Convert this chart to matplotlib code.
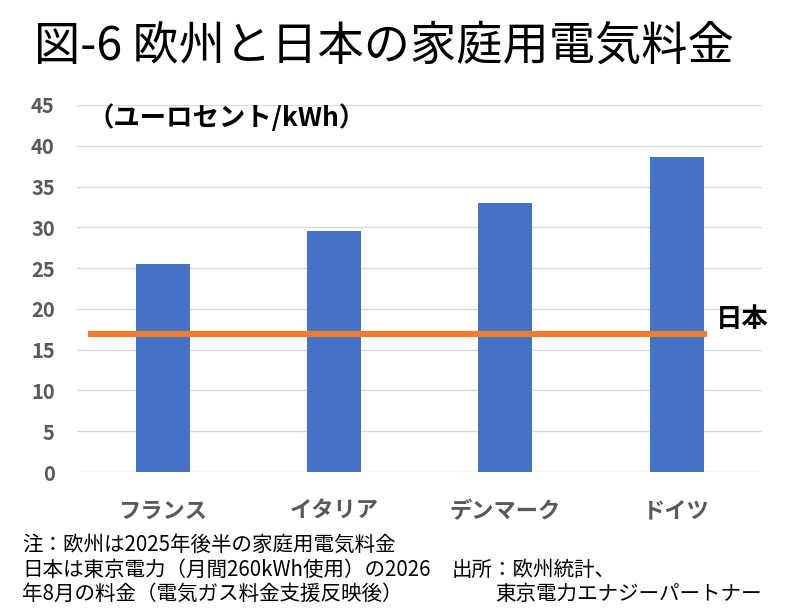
import matplotlib
import matplotlib.pyplot as plt

matplotlib.use("Agg")
plt.rcParams["font.family"] = ["Noto Sans CJK JP", "DejaVu Sans"]

countries = ["フランス", "イタリア", "デンマーク", "ドイツ"]
prices = [25.5, 29.6, 33.0, 38.6]
japan_price = 16.9
yticks = [0, 5, 10, 15, 20, 25, 30, 35, 40, 45]

fig = plt.figure(figsize=(8.09, 6.15), dpi=100)
ax = fig.add_axes([0.0952, 0.2325, 0.847, 0.5968])

x = range(len(countries))
ax.bar(x, prices, width=0.315, color="#4472C4", zorder=3)
ax.plot([-0.433, 3.175], [japan_price, japan_price], color="#ED7D31", lw=4.5, zorder=4, solid_capstyle="butt")
ax.text(3.23, japan_price + 1.8, "日本", fontsize=19, fontweight="bold", va="center", ha="left")

ax.set_xlim(-0.5, 3.5)
ax.set_ylim(0, 45)
ax.set_yticks(yticks)
ax.set_xticks(list(x))
ax.set_xticklabels(countries, fontsize=16, fontweight="bold", color="#595959")
for lab in ax.get_yticklabels():
    lab.set_fontsize(14.5)
    lab.set_fontweight("bold")
    lab.set_color("#595959")
ax.tick_params(axis="x", length=0, pad=20)
ax.tick_params(axis="y", length=0, pad=16)
ax.grid(axis="y", color="#D9D9D9", lw=1, zorder=0)
for s in ax.spines.values():
    s.set_visible(False)

ax.text(0.015, 43.4, "（ユーロセント/kWh）", fontsize=19, fontweight="bold", va="center", ha="left",
        transform=ax.get_yaxis_transform())

fig.text(34 / 809, 1 - 46 / 615, "図-6 欧州と日本の家庭用電気料金", fontsize=33.3, va="center", ha="left")

notes = ["注：欧州は2025年後半の家庭用電気料金",
         "日本は東京電力（月間260kWh使用）の2026",
         "年8月の料金（電気ガス料金支援反映後）"]
for i, line in enumerate(notes):
    fig.text(22 / 809, 1 - (545 + 24.5 * i) / 615, line, fontsize=14.8, va="center", ha="left")
fig.text(452 / 809, 1 - 570 / 615, "出所：欧州統計、", fontsize=14.8, va="center", ha="left")
fig.text(495 / 809, 1 - 594 / 615, "東京電力エナジーパートナー", fontsize=14.8, va="center", ha="left")

fig.savefig("out.png", dpi=100)
